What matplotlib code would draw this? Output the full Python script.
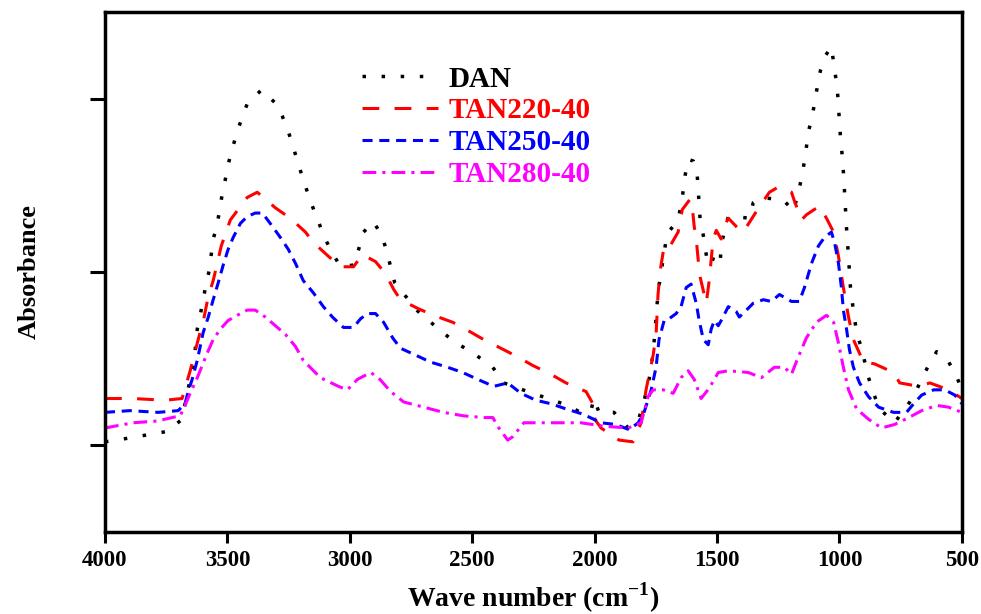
import matplotlib
matplotlib.use('Agg')
import matplotlib.pyplot as plt

plt.rcParams['font.family'] = 'Liberation Serif'
plt.rcParams['font.weight'] = 'bold'
plt.rcParams['mathtext.fontset'] = 'custom'
plt.rcParams['mathtext.rm'] = 'Liberation Serif:bold'
plt.rcParams['mathtext.bf'] = 'Liberation Serif:bold'

# ---- data (wave number cm-1, absorbance a.u.) ----
dan_wn = [4000, 3910, 3828, 3746, 3685, 3673, 3652, 3636, 3623, 3611, 3599, 3587, 3574, 3558,
          3542, 3521, 3509, 3497, 3480, 3464, 3443, 3419, 3361, 3308, 3276, 3251, 3231, 3214,
          3194, 3173, 3153, 3128, 3104, 3071, 3038, 2985, 2964, 2944, 2903, 2866, 2850, 2833,
          2817, 2727, 2653, 2576, 2494, 2416, 2371, 2293, 2211, 2130, 2056, 2015, 2003, 1982,
          1921, 1863, 1820, 1782, 1761, 1749, 1741, 1732, 1724, 1704, 1659, 1647, 1638, 1630,
          1618, 1597, 1581, 1577, 1573, 1569, 1556, 1548, 1536, 1520, 1511, 1487, 1483, 1471,
          1454, 1426, 1368, 1352, 1319, 1262, 1225, 1188, 1168, 1155, 1143, 1135, 1127, 1110,
          1102, 1090, 1078, 1061, 1033, 1024, 1016, 1008, 1004, 1000, 996, 990, 985, 981,
          978, 975, 971, 967, 963, 959, 955, 947, 939, 930, 910, 881, 861, 836,
          775, 697, 672, 640, 603, 558, 525, 500]
dan_abs = [1.02, 1.04, 1.06, 1.08, 1.15, 1.24, 1.38, 1.49, 1.67, 1.75, 1.84, 1.93, 2.01, 2.19,
           2.27, 2.45, 2.53, 2.62, 2.71, 2.79, 2.88, 2.97, 3.05, 2.98, 2.90, 2.81, 2.72, 2.64,
           2.55, 2.46, 2.38, 2.29, 2.20, 2.11, 2.03, 2.04, 2.13, 2.23, 2.29, 2.20, 2.12, 2.03,
           1.94, 1.78, 1.69, 1.60, 1.53, 1.45, 1.36, 1.32, 1.28, 1.24, 1.19, 1.20, 1.27, 1.19,
           1.19, 1.10, 1.15, 1.34, 1.53, 1.74, 1.88, 1.97, 2.04, 2.22, 2.30, 2.39, 2.47, 2.56,
           2.65, 2.64, 2.56, 2.47, 2.38, 2.30, 2.21, 2.13, 2.04, 2.06, 2.10, 2.06, 2.15, 2.23,
           2.32, 2.32, 2.31, 2.40, 2.43, 2.42, 2.41, 2.35, 2.46, 2.54, 2.64, 2.72, 2.81, 2.90,
           2.98, 3.07, 3.16, 3.24, 3.30, 3.21, 3.13, 3.04, 2.95, 2.86, 2.78, 2.69, 2.60, 2.51,
           2.43, 2.34, 2.25, 2.17, 2.08, 1.99, 1.91, 1.82, 1.74, 1.65, 1.56, 1.39, 1.30, 1.21,
           1.13, 1.28, 1.36, 1.45, 1.54, 1.49, 1.41, 1.32]

t220_wn = [4000, 3889, 3754, 3685, 3652, 3623, 3595, 3578, 3558, 3525, 3488, 3419, 3378, 3304,
           3243, 3181, 3149, 3087, 3038, 2985, 2948, 2895, 2854, 2821, 2793, 2723, 2658, 2580,
           2527, 2453, 2383, 2314, 2252, 2179, 2117, 2035, 2007, 1999, 1974, 1900, 1843, 1810,
           1790, 1761, 1749, 1741, 1732, 1716, 1696, 1659, 1642, 1610, 1601, 1593, 1585, 1577,
           1569, 1544, 1532, 1516, 1503, 1483, 1471, 1454, 1413, 1393, 1348, 1335, 1286, 1250,
           1196, 1184, 1155, 1135, 1082, 1053, 1024, 1004, 984, 963, 943, 902, 857, 779,
           754, 676, 631, 554, 500]
t220_abs = [1.27, 1.27, 1.26, 1.27, 1.43, 1.59, 1.74, 1.86, 1.95, 2.15, 2.30, 2.43, 2.46, 2.37,
            2.31, 2.23, 2.17, 2.09, 2.03, 2.03, 2.10, 2.06, 1.99, 1.90, 1.84, 1.79, 1.75, 1.71,
            1.67, 1.61, 1.56, 1.51, 1.46, 1.41, 1.36, 1.31, 1.24, 1.15, 1.10, 1.03, 1.02, 1.13,
            1.32, 1.52, 1.64, 1.87, 2.01, 2.15, 2.14, 2.23, 2.36, 2.42, 2.37, 2.26, 2.19, 2.07,
            1.97, 1.82, 1.95, 2.19, 2.24, 2.19, 2.26, 2.31, 2.25, 2.23, 2.33, 2.36, 2.46, 2.49,
            2.46, 2.41, 2.30, 2.33, 2.38, 2.31, 2.23, 2.09, 1.91, 1.74, 1.61, 1.48, 1.47, 1.42,
            1.36, 1.34, 1.36, 1.32, 1.27]

t250_wn = [4000, 3898, 3783, 3701, 3673, 3660, 3644, 3623, 3611, 3599, 3578, 3558, 3537, 3517,
           3497, 3476, 3447, 3419, 3386, 3357, 3325, 3284, 3251, 3222, 3190, 3149, 3108, 3071,
           3026, 2985, 2956, 2928, 2895, 2862, 2825, 2793, 2731, 2670, 2600, 2539, 2477, 2412,
           2355, 2301, 2240, 2179, 2117, 2048, 1974, 1913, 1859, 1822, 1798, 1769, 1749, 1737,
           1716, 1696, 1667, 1647, 1626, 1606, 1585, 1573, 1556, 1536, 1524, 1511, 1495, 1483,
           1454, 1421, 1409, 1380, 1352, 1311, 1278, 1245, 1196, 1164, 1143, 1114, 1086, 1061,
           1033, 1020, 1004, 992, 984, 971, 959, 943, 918, 881, 840, 779, 726, 697,
           664, 615, 570, 529, 500]
t250_abs = [1.19, 1.20, 1.19, 1.20, 1.24, 1.31, 1.38, 1.49, 1.57, 1.65, 1.74, 1.84, 1.94, 2.04,
            2.13, 2.20, 2.28, 2.32, 2.34, 2.34, 2.28, 2.20, 2.13, 2.05, 1.95, 1.88, 1.80, 1.74,
            1.68, 1.68, 1.73, 1.76, 1.76, 1.71, 1.62, 1.56, 1.52, 1.48, 1.45, 1.42, 1.38, 1.34,
            1.36, 1.30, 1.26, 1.24, 1.21, 1.18, 1.13, 1.12, 1.09, 1.13, 1.19, 1.32, 1.45, 1.61,
            1.72, 1.73, 1.76, 1.80, 1.91, 1.93, 1.82, 1.72, 1.61, 1.58, 1.67, 1.72, 1.69, 1.72,
            1.80, 1.77, 1.74, 1.78, 1.82, 1.84, 1.83, 1.87, 1.83, 1.83, 1.91, 2.05, 2.15, 2.20,
            2.23, 2.17, 2.05, 1.91, 1.78, 1.67, 1.55, 1.45, 1.36, 1.28, 1.22, 1.19, 1.19, 1.24,
            1.29, 1.32, 1.32, 1.29, 1.24]

t280_wn = [4000, 3885, 3787, 3726, 3693, 3673, 3652, 3623, 3603, 3583, 3558, 3529, 3497, 3460,
           3419, 3386, 3345, 3304, 3263, 3222, 3190, 3120, 3046, 3010, 2969, 2915, 2883, 2833,
           2780, 2698, 2617, 2535, 2453, 2416, 2391, 2355, 2334, 2289, 2191, 2056, 1962, 1863,
           1810, 1782, 1761, 1720, 1679, 1647, 1618, 1593, 1565, 1532, 1495, 1454, 1372, 1319,
           1266, 1225, 1196, 1168, 1135, 1094, 1053, 1024, 1004, 984, 963, 930, 881, 828,
           775, 717, 664, 603, 554, 500]
t280_abs = [1.10, 1.13, 1.14, 1.16, 1.17, 1.23, 1.30, 1.39, 1.46, 1.53, 1.61, 1.67, 1.72, 1.75,
            1.78, 1.78, 1.74, 1.69, 1.64, 1.57, 1.49, 1.39, 1.34, 1.32, 1.38, 1.42, 1.39, 1.31,
            1.25, 1.22, 1.19, 1.17, 1.16, 1.16, 1.10, 1.03, 1.05, 1.13, 1.13, 1.13, 1.11, 1.10,
            1.13, 1.28, 1.32, 1.32, 1.30, 1.39, 1.43, 1.38, 1.27, 1.33, 1.42, 1.43, 1.42, 1.39,
            1.45, 1.45, 1.41, 1.51, 1.62, 1.71, 1.75, 1.71, 1.59, 1.45, 1.32, 1.21, 1.15, 1.10,
            1.12, 1.16, 1.20, 1.23, 1.22, 1.19]

labels = ['DAN', 'TAN220-40', 'TAN250-40', 'TAN280-40']
colors = ['black', '#ff0000', '#0000ff', '#ff00ff']
xticks = [4000, 3500, 3000, 2500, 2000, 1500, 1000, 500]

fig = plt.figure(figsize=(9.81, 6.14), dpi=100)
ax = fig.add_axes([0.107, 0.1336, 0.8735, 0.8469])

lw = 2.2
ax.plot(dan_wn, dan_abs, color=colors[0], lw=2.5, ls=(0, (1, 4.5)), label=labels[0])
ax.plot(t220_wn, t220_abs, color=colors[1], lw=lw, ls=(0, (5.5, 5)), label=labels[1])
ax.plot(t250_wn, t250_abs, color=colors[2], lw=lw, ls=(0, (3.3, 2.2)), label=labels[2])
ax.plot(t280_wn, t280_abs, color=colors[3], lw=lw, ls=(0, (4.5, 2, 1, 2)), label=labels[3])

ax.set_xlim(4000, 500)
ax.set_ylim(0.5, 3.5)
ax.set_xticks(xticks)
ax.set_yticks([1, 2, 3])
ax.set_yticklabels([])
ax.tick_params(axis='x', direction='out', length=8, width=2.2, labelsize=16.5, pad=5)
ax.tick_params(axis='y', direction='out', length=11, width=2.2)
for s in ax.spines.values():
    s.set_linewidth(2.5)

ax.set_xlabel(r'Wave number (cm$^{-1}$)', fontsize=20, fontweight='bold', labelpad=7)
ax.set_ylabel('Absorbance', fontsize=19, fontweight='bold', labelpad=32)

leg = ax.legend(loc='upper left', bbox_to_anchor=(0.30, 0.897), frameon=False,
                prop={'size': 21, 'weight': 'bold'}, handlelength=2.6, handletextpad=0.35,
                labelspacing=0.17, borderpad=0, borderaxespad=0)
for t, c in zip(leg.get_texts(), colors):
    t.set_color(c)

fig.savefig('out.png', dpi=100)
